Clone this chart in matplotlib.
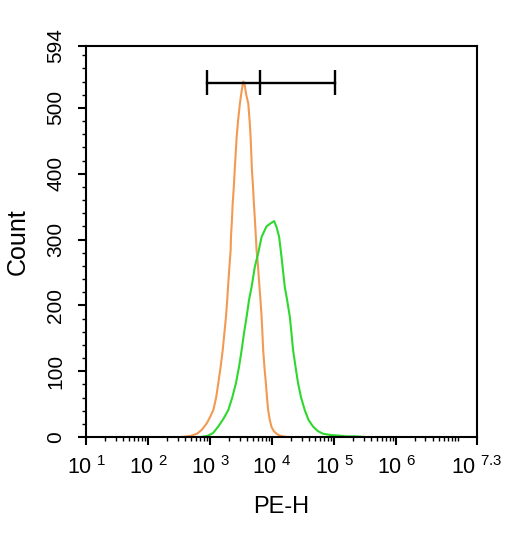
import matplotlib
matplotlib.use('Agg')
import matplotlib.pyplot as plt
import numpy as np

plt.rcParams['font.family'] = ['Liberation Sans', 'DejaVu Sans']
plt.rcParams['mathtext.fontset'] = 'custom'
plt.rcParams['mathtext.rm'] = 'Liberation Sans'

# isotype control (orange), log10 of PE-H and event count
ctrl_log = [2.55, 2.63, 2.70, 2.79, 2.87, 2.95, 3.00, 3.055, 3.10, 3.135, 3.17, 3.206,
            3.235, 3.259, 3.28, 3.296, 3.315, 3.334, 3.339, 3.355, 3.367, 3.385, 3.40,
            3.415, 3.431, 3.455, 3.484, 3.51, 3.537, 3.555, 3.585, 3.618, 3.64, 3.656,
            3.667, 3.677, 3.695, 3.709, 3.725, 3.741, 3.752, 3.775, 3.794, 3.815, 3.833,
            3.845, 3.859, 3.88, 3.902, 3.92, 3.939, 3.965, 3.994, 4.03, 4.074, 4.13,
            4.18, 4.25]
ctrl_count = [0, 1, 2, 5, 11, 21, 30, 41, 60, 82, 105, 132,
              160, 183, 210, 234, 260, 284, 304, 330, 355, 380, 406,
              430, 456, 482, 507, 525, 540, 538, 520, 507, 480, 456,
              430, 406, 380, 355, 330, 304, 284, 260, 234, 208, 183,
              160, 132, 105, 82, 60, 41, 26, 15, 9, 5, 2,
              1, 0]

# stained sample (green)
samp_log = [2.85, 2.92, 2.97, 3.05, 3.135, 3.22, 3.296, 3.36, 3.42, 3.47, 3.511, 3.55,
            3.592, 3.63, 3.672, 3.725, 3.778, 3.833, 3.913, 3.97, 4.035, 4.074, 4.116,
            4.154, 4.207, 4.245, 4.288, 4.315, 4.341, 4.38, 4.421, 4.47, 4.529, 4.59,
            4.662, 4.74, 4.823, 4.95, 5.1, 5.2, 5.35, 5.5]
samp_count = [0, 1, 2, 6, 16, 28, 41, 60, 82, 107, 132, 158,
              183, 208, 228, 259, 279, 304, 320, 324, 328, 319, 304,
              274, 228, 208, 183, 158, 132, 107, 82, 60, 41, 26,
              16, 9, 5, 3, 2, 1, 1, 0]

# gate marker
gate_log = [2.953, 3.806, 5.01]
gate_y = 538
gate_cap = 19

x_major_exp = [1, 2, 3, 4, 5, 6, 7.3]
x_major_lbl = ['1', '2', '3', '4', '5', '6', '7.3']
y_major = [0, 100, 200, 300, 400, 500, 594]

fig = plt.figure(figsize=(5.21, 5.43), dpi=100)
ax = fig.add_axes([0.165, 0.1952, 0.7496, 0.7201])

ax.plot(10 ** np.array(ctrl_log), ctrl_count, color='#F39A52', lw=1.5)
ax.plot(10 ** np.array(samp_log), samp_count, color='#2ED82E', lw=1.5)

gx = 10 ** np.array(gate_log)
ax.plot([gx[0], gx[-1]], [gate_y, gate_y], color='black', lw=1.7, clip_on=False)
ax.vlines(gx, gate_y - gate_cap, gate_y + gate_cap, color='black', lw=1.7, clip_on=False)

ax.set_xscale('log')
ax.set_xlim(10, 10 ** 7.3)
ax.set_ylim(0, 594)

ax.set_xticks([10 ** e for e in x_major_exp])
ax.set_xticklabels(['$\\mathregular{10^{\\ ' + s + '}}$' for s in x_major_lbl], fontsize=15.5)
minor_x = [m * 10 ** k for k in range(1, 7) for m in range(2, 10)] + [1e7]
ax.set_xticks(minor_x, minor=True)
ax.xaxis.set_minor_formatter(matplotlib.ticker.NullFormatter())

ax.set_yticks(y_major)
ax.set_yticklabels([str(v) for v in y_major], fontsize=15, rotation=90, va='center')
ax.set_yticks([v for v in range(20, 594, 20) if v % 100], minor=True)

ax.tick_params(axis='x', which='major', direction='out', length=6, width=1.5, pad=8)
ax.tick_params(axis='x', which='minor', direction='out', length=3, width=1)
ax.tick_params(axis='y', which='major', direction='out', length=6, width=1.5, pad=9)
ax.tick_params(axis='y', which='minor', direction='out', length=3, width=1)

for sp in ax.spines.values():
    sp.set_linewidth(1.5)

ax.set_xlabel('PE-H', fontsize=17, labelpad=12)
ax.set_ylabel('Count', fontsize=18, labelpad=12)

fig.savefig('out.png', dpi=100)
